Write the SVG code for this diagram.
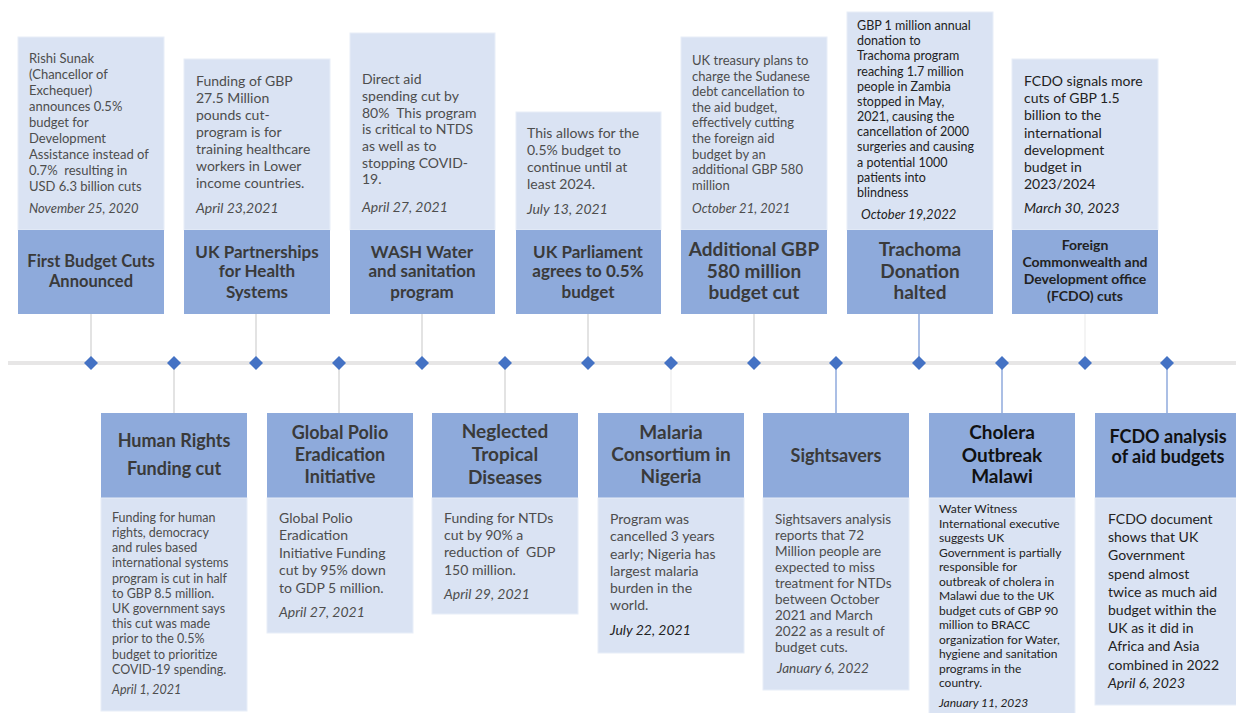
<svg xmlns="http://www.w3.org/2000/svg" width="1236" height="713" viewBox="0 0 1236 713">
<defs>
<style>
.hd{fill:#8eaadb}
.bd{fill:#dae3f3;stroke:#e8eef8;stroke-width:1}
.ht{font-family:Lato,"Liberation Sans",sans-serif;font-weight:bold;fill:#3a3a3a;text-anchor:middle}
.bt{font-family:Lato,"Liberation Sans",sans-serif;fill:#4d4d4d}
.dt{font-family:Lato,"Liberation Sans",sans-serif;font-style:italic;fill:#4d4d4d}
.dk{fill:#222222}
.cg{stroke:#e3e3e3;stroke-width:2;fill:none}
.cf{stroke:#f1f1f1;stroke-width:1.5;fill:none}
.cb{stroke:#8faadc;stroke-width:1.5;fill:none}
.axis{stroke:#e7e6e6;stroke-width:4}
</style>
<polygon id="dm" points="0,-7 7,0 0,7 -7,0" fill="#4472c4"/>
</defs>
<rect width="1236" height="713" fill="#ffffff"/>

<g id="connectors">
<line class="cg" x1="91" y1="314" x2="91" y2="363"/>
<line class="cg" x1="256" y1="314" x2="256" y2="363"/>
<line class="cg" x1="422" y1="314" x2="422" y2="363"/>
<line class="cg" x1="588" y1="314" x2="588" y2="363"/>
<line class="cg" x1="754" y1="314" x2="754" y2="363"/>
<line class="cb" x1="919" y1="314" x2="919" y2="363"/>
<line class="cf" x1="1085" y1="314" x2="1085" y2="363"/>
<line class="cg" x1="174" y1="363" x2="174" y2="413"/>
<line class="cg" x1="339" y1="363" x2="339" y2="413"/>
<line class="cg" x1="505" y1="363" x2="505" y2="413"/>
<line class="cf" x1="671" y1="363" x2="671" y2="413"/>
<line class="cb" x1="836" y1="363" x2="836" y2="413"/>
<line class="cb" x1="1002" y1="363" x2="1002" y2="413"/>
<line class="cb" x1="1167" y1="363" x2="1167" y2="413"/>
</g>

<g id="timeline">
<line class="axis" x1="8" y1="363" x2="1236" y2="363"/>
<use href="#dm" x="91" y="363"/>
<use href="#dm" x="174" y="363"/>
<use href="#dm" x="256" y="363"/>
<use href="#dm" x="339" y="363"/>
<use href="#dm" x="422" y="363"/>
<use href="#dm" x="505" y="363"/>
<use href="#dm" x="588" y="363"/>
<use href="#dm" x="671" y="363"/>
<use href="#dm" x="754" y="363"/>
<use href="#dm" x="836" y="363"/>
<use href="#dm" x="919" y="363"/>
<use href="#dm" x="1002" y="363"/>
<use href="#dm" x="1085" y="363"/>
<use href="#dm" x="1167" y="363"/>
</g>

<g id="top1">
<rect class="bd" x="18" y="37" width="146" height="193"/>
<rect class="hd" x="18" y="230" width="146" height="84"/>
<text class="bt" font-size="13">
<tspan x="29" y="63">Rishi Sunak</tspan>
<tspan x="29" y="79">(Chancellor of</tspan>
<tspan x="29" y="95">Exchequer)</tspan>
<tspan x="29" y="111">announces 0.5%</tspan>
<tspan x="29" y="127">budget for</tspan>
<tspan x="29" y="143">Development</tspan>
<tspan x="29" y="159">Assistance instead of</tspan>
<tspan x="29" y="175" xml:space="preserve">0.7%  resulting in</tspan>
<tspan x="29" y="191">USD 6.3 billion cuts</tspan>
</text>
<text class="dt" font-size="13" x="29" y="213">November 25, 2020</text>
<text class="ht" font-size="16.5"><tspan x="91" y="267">First Budget Cuts</tspan><tspan x="91" y="287">Announced</tspan></text>
</g>

<g id="top2">
<rect class="bd" x="184" y="59" width="146" height="171"/>
<rect class="hd" x="184" y="230" width="146" height="84"/>
<text class="bt" font-size="14">
<tspan x="196" y="86">Funding of GBP</tspan>
<tspan x="196" y="103">27.5 Million</tspan>
<tspan x="196" y="120">pounds cut-</tspan>
<tspan x="196" y="137">program is for</tspan>
<tspan x="196" y="154">training healthcare</tspan>
<tspan x="196" y="171">workers in Lower</tspan>
<tspan x="196" y="188">income countries.</tspan>
</text>
<text class="dt" font-size="14" x="196" y="213">April 23,2021</text>
<text class="ht" font-size="17"><tspan x="257" y="258">UK Partnerships</tspan><tspan x="257" y="277">for Health</tspan><tspan x="257" y="298">Systems</tspan></text>
</g>

<g id="top3">
<rect class="bd" x="350" y="33" width="145" height="197"/>
<rect class="hd" x="350" y="230" width="145" height="84"/>
<text class="bt" font-size="14">
<tspan x="362" y="84">Direct aid</tspan>
<tspan x="362" y="101">spending cut by</tspan>
<tspan x="362" y="118" xml:space="preserve">80%  This program</tspan>
<tspan x="362" y="134">is critical to NTDS</tspan>
<tspan x="362" y="151">as well as to</tspan>
<tspan x="362" y="168">stopping COVID-</tspan>
<tspan x="362" y="184">19.</tspan>
</text>
<text class="dt" font-size="14" x="362" y="212">April 27, 2021</text>
<text class="ht" font-size="17"><tspan x="422" y="258">WASH Water</tspan><tspan x="422" y="277">and sanitation</tspan><tspan x="422" y="298">program</tspan></text>
</g>

<g id="top4">
<rect class="bd" x="516" y="112" width="145" height="118"/>
<rect class="hd" x="516" y="230" width="145" height="84"/>
<text class="bt" font-size="14">
<tspan x="527" y="138">This allows for the</tspan>
<tspan x="527" y="155">0.5% budget to</tspan>
<tspan x="527" y="172">continue until at</tspan>
<tspan x="527" y="189">least 2024.</tspan>
</text>
<text class="dt" font-size="14" x="527" y="214">July 13, 2021</text>
<text class="ht" font-size="17"><tspan x="588" y="258">UK Parliament</tspan><tspan x="588" y="277">agrees to 0.5%</tspan><tspan x="588" y="298">budget</tspan></text>
</g>

<g id="top5">
<rect class="bd" x="681" y="37" width="146" height="193"/>
<rect class="hd" x="681" y="230" width="146" height="84"/>
<text class="bt" font-size="13">
<tspan x="692" y="65">UK treasury plans to</tspan>
<tspan x="692" y="81">charge the Sudanese</tspan>
<tspan x="692" y="96">debt cancellation to</tspan>
<tspan x="692" y="112">the aid budget,</tspan>
<tspan x="692" y="127">effectively cutting</tspan>
<tspan x="692" y="143">the foreign aid</tspan>
<tspan x="692" y="159">budget by an</tspan>
<tspan x="692" y="174">additional GBP 580</tspan>
<tspan x="692" y="190">million</tspan>
</text>
<text class="dt" font-size="13" x="692" y="213">October 21, 2021</text>
<text class="ht" font-size="19"><tspan x="754" y="256">Additional GBP</tspan><tspan x="754" y="278">580 million</tspan><tspan x="754" y="299">budget cut</tspan></text>
</g>

<g id="top6">
<rect class="bd" x="847" y="12" width="146" height="218"/>
<rect class="hd" x="847" y="230" width="146" height="84"/>
<text class="bt dk" font-size="12.5">
<tspan x="857" y="30">GBP 1 million annual</tspan>
<tspan x="857" y="45">donation to</tspan>
<tspan x="857" y="60">Trachoma program</tspan>
<tspan x="857" y="76">reaching 1.7 million</tspan>
<tspan x="857" y="91">people in Zambia</tspan>
<tspan x="857" y="106">stopped in May,</tspan>
<tspan x="857" y="121">2021, causing the</tspan>
<tspan x="857" y="136">cancellation of 2000</tspan>
<tspan x="857" y="151">surgeries and causing</tspan>
<tspan x="857" y="167">a potential 1000</tspan>
<tspan x="857" y="182">patients into</tspan>
<tspan x="857" y="197">blindness</tspan>
</text>
<text class="dt dk" font-size="13" x="861" y="219">October 19,2022</text>
<text class="ht" font-size="19"><tspan x="920" y="256">Trachoma</tspan><tspan x="920" y="278">Donation</tspan><tspan x="920" y="299">halted</tspan></text>
</g>

<g id="top7">
<rect class="bd" x="1012" y="59" width="146" height="171"/>
<rect class="hd" x="1012" y="230" width="146" height="84"/>
<text class="bt dk" font-size="14">
<tspan x="1024" y="86">FCDO signals more</tspan>
<tspan x="1024" y="103">cuts of GBP 1.5</tspan>
<tspan x="1024" y="120">billion to the</tspan>
<tspan x="1024" y="138">international</tspan>
<tspan x="1024" y="155">development</tspan>
<tspan x="1024" y="172">budget in</tspan>
<tspan x="1024" y="189">2023/2024</tspan>
</text>
<text class="dt dk" font-size="14" x="1024" y="213">March 30, 2023</text>
<text class="ht dk" font-size="14"><tspan x="1085" y="250">Foreign</tspan><tspan x="1085" y="267">Commonwealth and</tspan><tspan x="1085" y="284">Development office</tspan><tspan x="1085" y="301">(FCDO) cuts</tspan></text>
</g>

<g id="bot1">
<rect class="hd" x="101" y="413" width="146" height="85"/>
<rect class="bd" x="101" y="498" width="146" height="213"/>
<text class="ht" font-size="18"><tspan x="174" y="447">Human Rights</tspan><tspan x="174" y="475">Funding cut</tspan></text>
<text class="bt" font-size="12.5">
<tspan x="112" y="522">Funding for human</tspan>
<tspan x="112" y="537">rights, democracy</tspan>
<tspan x="112" y="552">and rules based</tspan>
<tspan x="112" y="567">international systems</tspan>
<tspan x="112" y="583">program is cut in half</tspan>
<tspan x="112" y="598">to GBP 8.5 million.</tspan>
<tspan x="112" y="613">UK government says</tspan>
<tspan x="112" y="628">this cut was made</tspan>
<tspan x="112" y="643">prior to the 0.5%</tspan>
<tspan x="112" y="659">budget to prioritize</tspan>
<tspan x="112" y="674">COVID-19 spending.</tspan>
</text>
<text class="dt" font-size="12.5" x="112" y="694">April 1, 2021</text>
</g>

<g id="bot2">
<rect class="hd" x="267" y="413" width="146" height="85"/>
<rect class="bd" x="267" y="498" width="146" height="135"/>
<text class="ht" font-size="18"><tspan x="340" y="439">Global Polio</tspan><tspan x="340" y="461">Eradication</tspan><tspan x="340" y="483">Initiative</tspan></text>
<text class="bt" font-size="14">
<tspan x="279" y="523">Global Polio</tspan>
<tspan x="279" y="540">Eradication</tspan>
<tspan x="279" y="558">Initiative Funding</tspan>
<tspan x="279" y="575">cut by 95% down</tspan>
<tspan x="279" y="593">to GDP 5 million.</tspan>
</text>
<text class="dt" font-size="14" x="279" y="617">April 27, 2021</text>
</g>

<g id="bot3">
<rect class="hd" x="432" y="413" width="146" height="85"/>
<rect class="bd" x="432" y="498" width="146" height="116"/>
<text class="ht" font-size="19"><tspan x="505" y="438">Neglected</tspan><tspan x="505" y="461">Tropical</tspan><tspan x="505" y="484">Diseases</tspan></text>
<text class="bt" font-size="14">
<tspan x="444" y="523">Funding for NTDs</tspan>
<tspan x="444" y="540">cut by 90% a</tspan>
<tspan x="444" y="557" xml:space="preserve">reduction of  GDP</tspan>
<tspan x="444" y="575">150 million.</tspan>
</text>
<text class="dt" font-size="14" x="444" y="599">April 29, 2021</text>
</g>

<g id="bot4">
<rect class="hd" x="598" y="413" width="146" height="85"/>
<rect class="bd" x="598" y="498" width="146" height="155"/>
<text class="ht" font-size="19"><tspan x="671" y="439">Malaria</tspan><tspan x="671" y="461">Consortium in</tspan><tspan x="671" y="483">Nigeria</tspan></text>
<text class="bt" font-size="14">
<tspan x="610" y="524">Program was</tspan>
<tspan x="610" y="541">cancelled 3 years</tspan>
<tspan x="610" y="559">early; Nigeria has</tspan>
<tspan x="610" y="576">largest malaria</tspan>
<tspan x="610" y="593">burden in the</tspan>
<tspan x="610" y="610">world.</tspan>
</text>
<text class="dt dk" font-size="14" x="610" y="635">July 22, 2021</text>
</g>

<g id="bot5">
<rect class="hd" x="763" y="413" width="146" height="85"/>
<rect class="bd" x="763" y="498" width="146" height="192"/>
<text class="ht" font-size="18"><tspan x="836" y="462">Sightsavers</tspan></text>
<text class="bt" font-size="13.5">
<tspan x="775" y="524">Sightsavers analysis</tspan>
<tspan x="775" y="540">reports that 72</tspan>
<tspan x="775" y="556">Million people are</tspan>
<tspan x="775" y="572">expected to miss</tspan>
<tspan x="775" y="588">treatment for NTDs</tspan>
<tspan x="775" y="604">between October</tspan>
<tspan x="775" y="620">2021 and March</tspan>
<tspan x="775" y="636">2022 as a result of</tspan>
<tspan x="775" y="652">budget cuts.</tspan>
</text>
<text class="dt" font-size="13.5" x="777" y="673">January 6, 2022</text>
</g>

<g id="bot6">
<rect class="hd" x="929" y="413" width="146" height="85"/>
<rect class="bd" x="929" y="498" width="146" height="220"/>
<text class="ht dk" font-size="19" style="fill:#111"><tspan x="1002" y="439">Cholera</tspan><tspan x="1002" y="462">Outbreak</tspan><tspan x="1002" y="483">Malawi</tspan></text>
<text class="bt dk" font-size="12">
<tspan x="939" y="513">Water Witness</tspan>
<tspan x="939" y="528">International executive</tspan>
<tspan x="939" y="542">suggests UK</tspan>
<tspan x="939" y="557">Government is partially</tspan>
<tspan x="939" y="571">responsible for</tspan>
<tspan x="939" y="586">outbreak of cholera in</tspan>
<tspan x="939" y="600">Malawi due to the UK</tspan>
<tspan x="939" y="615">budget cuts of GBP 90</tspan>
<tspan x="939" y="629">million to BRACC</tspan>
<tspan x="939" y="644">organization for Water,</tspan>
<tspan x="939" y="658">hygiene and sanitation</tspan>
<tspan x="939" y="673">programs in the</tspan>
<tspan x="939" y="687">country.</tspan>
</text>
<text class="dt dk" font-size="12" x="939" y="707">January 11, 2023</text>
</g>

<g id="bot7">
<rect class="hd" x="1095" y="413" width="146" height="85"/>
<rect class="bd" x="1095" y="498" width="146" height="207"/>
<text class="ht dk" font-size="18" style="fill:#111"><tspan x="1168" y="443">FCDO analysis</tspan><tspan x="1168" y="463">of aid budgets</tspan></text>
<text class="bt dk" font-size="14">
<tspan x="1108" y="524">FCDO document</tspan>
<tspan x="1108" y="542">shows that UK</tspan>
<tspan x="1108" y="560">Government</tspan>
<tspan x="1108" y="579">spend almost</tspan>
<tspan x="1108" y="597">twice as much aid</tspan>
<tspan x="1108" y="615">budget within the</tspan>
<tspan x="1108" y="633">UK as it did in</tspan>
<tspan x="1108" y="651">Africa and Asia</tspan>
<tspan x="1108" y="670">combined in 2022</tspan>
</text>
<text class="dt dk" font-size="14" x="1108" y="688">April 6, 2023</text>
</g>
</svg>
